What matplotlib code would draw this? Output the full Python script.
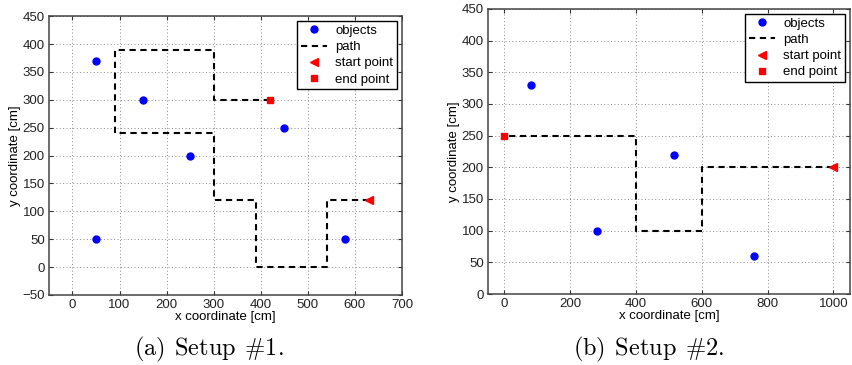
import matplotlib.pyplot as plt

plt.rcParams['font.family'] = ['Liberation Sans', 'DejaVu Sans']
plt.rcParams['mathtext.fontset'] = 'cm'

# setup 1
obj1_x = [50, 150, 250, 450, 50, 580]
obj1_y = [370, 300, 200, 250, 50, 50]
path1_x = [630, 540, 540, 390, 390, 300, 300, 90, 90, 300, 300, 420]
path1_y = [120, 120, 0, 0, 120, 120, 240, 240, 390, 390, 300, 300]
start1 = (630, 120)
end1 = (420, 300)

# setup 2 (one object sits under the legend)
obj2_x = [80, 280, 515, 760, 750]
obj2_y = [330, 100, 220, 60, 350]
path2_x = [1000, 600, 600, 400, 400, 0]
path2_y = [200, 200, 100, 100, 250, 250]
start2 = (1000, 200)
end2 = (0, 250)

fig = plt.figure(figsize=(8.53, 3.65), dpi=100)
ax1 = fig.add_axes([0.0574, 0.1918, 0.4138, 0.764])
ax2 = fig.add_axes([0.572, 0.1945, 0.4244, 0.781])


def draw(ax, ox, oy, px, py, start, end):
    ax.plot(ox, oy, 'o', color='blue', markersize=5, label='objects', zorder=3)
    ax.plot(px, py, '--', color='black', linewidth=1.5, dashes=(3, 2.2), label='path', zorder=2)
    ax.plot(start[0], start[1], '<', color='red', markersize=5.5, label='start point', zorder=4)
    ax.plot(end[0], end[1], 's', color='red', markersize=4.5, label='end point', zorder=4)
    ax.grid(True, linestyle=(0, (1, 2.5)), color='#888888', linewidth=0.7)
    ax.tick_params(direction='in', labelsize=9.5, top=True, right=True, length=3,
                   colors='#333333', labelcolor='#222222', pad=3)
    for s in ax.spines.values():
        s.set_color('#444444')
        s.set_linewidth(1.1)
    ax.set_xlabel('x coordinate [cm]', fontsize=9.5, labelpad=0)
    ax.set_ylabel('y coordinate [cm]', fontsize=9.5, labelpad=1)
    leg = ax.legend(loc='upper right', fontsize=9.5, fancybox=False, framealpha=1,
                    edgecolor='black', borderpad=0.3, labelspacing=0.3,
                    handlelength=2.0, handletextpad=0.6, borderaxespad=0.35)
    leg.get_frame().set_linewidth(1.0)
    leg.set_zorder(10)


draw(ax1, obj1_x, obj1_y, path1_x, path1_y, start1, end1)
ax1.set_xlim(-50, 700)
ax1.set_ylim(-50, 450)
ax1.set_xticks(range(0, 701, 100))
ax1.set_yticks(range(-50, 451, 50))

draw(ax2, obj2_x, obj2_y, path2_x, path2_y, start2, end2)
ax2.set_xlim(-50, 1050)
ax2.set_ylim(0, 450)
ax2.set_xticks(range(0, 1001, 200))
ax2.set_yticks(range(0, 451, 50))

fig.text(0.245, 0.042, r'$\mathrm{(a)\;\,Setup\;\,\#1.}$', ha='center', va='center', fontsize=17.5)
fig.text(0.76, 0.042, r'$\mathrm{(b)\;\,Setup\;\,\#2.}$', ha='center', va='center', fontsize=17.5)

fig.savefig('out.png', dpi=100)
